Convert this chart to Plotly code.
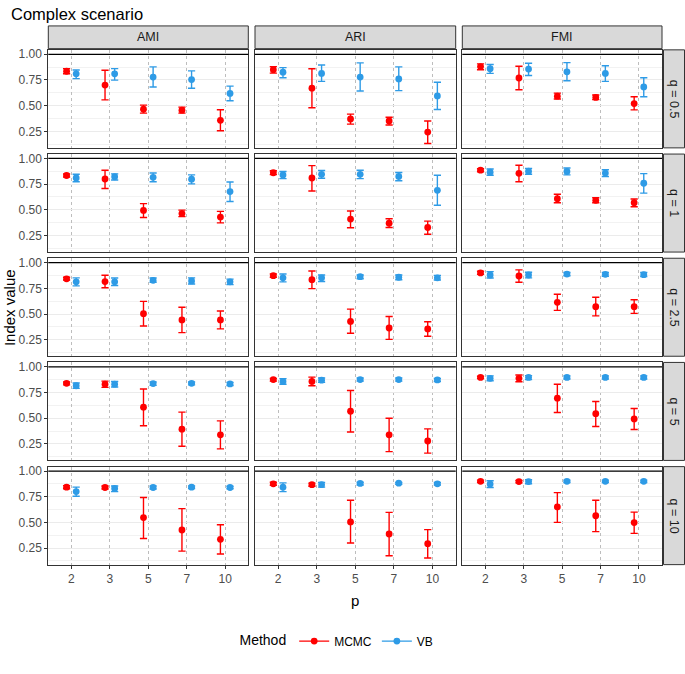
import plotly.graph_objects as go

q_levels = ["0.5", "1", "2.5", "5", "10"]
p_levels = ["2", "3", "5", "7", "10"]
metrics = ["AMI", "ARI", "FMI"]
methods = ["MCMC", "VB"]

# ---- AMI ----
ami_mcmc_mid = [[0.835, 0.70, 0.465, 0.456, 0.357],
                [0.834, 0.80, 0.494, 0.464, 0.43],
                [0.843, 0.816, 0.503, 0.443, 0.443],
                [0.84, 0.831, 0.607, 0.393, 0.338],
                [0.843, 0.84, 0.547, 0.426, 0.335]]
ami_mcmc_lo = [[0.81, 0.556, 0.427, 0.427, 0.255],
               [0.82, 0.708, 0.425, 0.434, 0.373],
               [0.831, 0.756, 0.383, 0.319, 0.355],
               [0.825, 0.80, 0.426, 0.227, 0.202],
               [0.828, 0.825, 0.344, 0.22, 0.193]]
ami_mcmc_hi = [[0.86, 0.844, 0.505, 0.486, 0.46],
               [0.849, 0.886, 0.56, 0.497, 0.485],
               [0.858, 0.877, 0.623, 0.566, 0.53],
               [0.852, 0.861, 0.785, 0.559, 0.474],
               [0.858, 0.855, 0.743, 0.634, 0.477]]
ami_vb_mid = [[0.81, 0.81, 0.778, 0.754, 0.619],
              [0.81, 0.822, 0.816, 0.798, 0.678],
              [0.813, 0.813, 0.828, 0.822, 0.813],
              [0.816, 0.831, 0.837, 0.84, 0.834],
              [0.80, 0.83, 0.84, 0.843, 0.84]]
ami_vb_lo = [[0.763, 0.748, 0.682, 0.67, 0.547],
             [0.774, 0.79, 0.774, 0.753, 0.581],
             [0.774, 0.777, 0.81, 0.792, 0.786],
             [0.79, 0.804, 0.82, 0.825, 0.819],
             [0.755, 0.80, 0.825, 0.83, 0.828]]
ami_vb_hi = [[0.847, 0.86, 0.877, 0.838, 0.69],
             [0.846, 0.85, 0.858, 0.84, 0.771],
             [0.852, 0.85, 0.85, 0.852, 0.84],
             [0.843, 0.858, 0.852, 0.852, 0.849],
             [0.843, 0.855, 0.855, 0.855, 0.852]]

# ---- ARI ----
ari_mcmc_mid = [[0.85, 0.67, 0.37, 0.351, 0.243],
                [0.861, 0.81, 0.41, 0.37, 0.328],
                [0.873, 0.834, 0.428, 0.364, 0.355],
                [0.876, 0.858, 0.568, 0.338, 0.278],
                [0.876, 0.867, 0.505, 0.387, 0.293]]
ari_mcmc_lo = [[0.817, 0.48, 0.32, 0.312, 0.132],
               [0.843, 0.684, 0.325, 0.328, 0.262],
               [0.858, 0.747, 0.313, 0.253, 0.283],
               [0.861, 0.816, 0.366, 0.175, 0.16],
               [0.861, 0.852, 0.30, 0.175, 0.154]]
ari_mcmc_hi = [[0.88, 0.859, 0.417, 0.387, 0.351],
               [0.88, 0.93, 0.488, 0.413, 0.39],
               [0.89, 0.919, 0.548, 0.476, 0.425],
               [0.888, 0.90, 0.77, 0.50, 0.396],
               [0.891, 0.882, 0.716, 0.598, 0.43]]
ari_vb_mid = [[0.826, 0.814, 0.778, 0.76, 0.595],
              [0.84, 0.846, 0.846, 0.825, 0.69],
              [0.852, 0.852, 0.864, 0.858, 0.852],
              [0.858, 0.87, 0.876, 0.876, 0.873],
              [0.843, 0.867, 0.879, 0.882, 0.876]]
ari_vb_lo = [[0.772, 0.736, 0.643, 0.646, 0.462],
             [0.804, 0.807, 0.804, 0.783, 0.545],
             [0.813, 0.816, 0.843, 0.834, 0.831],
             [0.831, 0.849, 0.861, 0.861, 0.858],
             [0.80, 0.843, 0.864, 0.87, 0.864]]
ari_vb_hi = [[0.87, 0.895, 0.916, 0.877, 0.727],
             [0.873, 0.883, 0.886, 0.864, 0.837],
             [0.889, 0.88, 0.88, 0.88, 0.876],
             [0.885, 0.891, 0.891, 0.891, 0.888],
             [0.885, 0.89, 0.891, 0.89, 0.888]]

# ---- FMI ----
fmi_mcmc_mid = [[0.88, 0.769, 0.592, 0.58, 0.52],
                [0.886, 0.855, 0.608, 0.593, 0.569],
                [0.90, 0.87, 0.614, 0.572, 0.572],
                [0.897, 0.888, 0.695, 0.544, 0.493],
                [0.90, 0.897, 0.65, 0.565, 0.498]]
fmi_mcmc_lo = [[0.85, 0.655, 0.565, 0.559, 0.459],
               [0.87, 0.774, 0.569, 0.569, 0.53],
               [0.886, 0.81, 0.536, 0.482, 0.506],
               [0.885, 0.855, 0.556, 0.42, 0.39],
               [0.888, 0.885, 0.50, 0.41, 0.393]]
fmi_mcmc_hi = [[0.907, 0.883, 0.622, 0.604, 0.586],
               [0.90, 0.934, 0.652, 0.617, 0.605],
               [0.916, 0.93, 0.693, 0.663, 0.639],
               [0.909, 0.921, 0.831, 0.662, 0.595],
               [0.912, 0.909, 0.79, 0.716, 0.60]]
fmi_vb_mid = [[0.859, 0.856, 0.829, 0.814, 0.682],
              [0.867, 0.876, 0.873, 0.858, 0.759],
              [0.88, 0.88, 0.889, 0.886, 0.883],
              [0.888, 0.897, 0.897, 0.897, 0.897],
              [0.873, 0.897, 0.90, 0.90, 0.90]]
fmi_vb_lo = [[0.814, 0.793, 0.742, 0.736, 0.586],
             [0.837, 0.846, 0.84, 0.825, 0.663],
             [0.85, 0.852, 0.873, 0.868, 0.865],
             [0.864, 0.876, 0.882, 0.882, 0.882],
             [0.84, 0.876, 0.888, 0.888, 0.888]]
fmi_vb_hi = [[0.90, 0.913, 0.919, 0.889, 0.772],
             [0.898, 0.904, 0.907, 0.89, 0.852],
             [0.913, 0.907, 0.904, 0.904, 0.904],
             [0.912, 0.915, 0.912, 0.912, 0.912],
             [0.906, 0.915, 0.912, 0.912, 0.912]]

reference_value = 1.0

series = {
    ("AMI", "MCMC"): (ami_mcmc_mid, ami_mcmc_lo, ami_mcmc_hi),
    ("AMI", "VB"): (ami_vb_mid, ami_vb_lo, ami_vb_hi),
    ("ARI", "MCMC"): (ari_mcmc_mid, ari_mcmc_lo, ari_mcmc_hi),
    ("ARI", "VB"): (ari_vb_mid, ari_vb_lo, ari_vb_hi),
    ("FMI", "MCMC"): (fmi_mcmc_mid, fmi_mcmc_lo, fmi_mcmc_hi),
    ("FMI", "VB"): (fmi_vb_mid, fmi_vb_lo, fmi_vb_hi),
}

colors = {"MCMC": "#FF0000", "VB": "#2E9BE6"}
dodge = {"MCMC": -0.125, "VB": 0.125}

W, H = 685, 674
FONT = "Liberation Sans, Arial, sans-serif"


def fx(px):
    return px / W


def fy(py):
    return 1 - py / H


col_px = [(48.3, 248.3), (255.0, 455.7), (462.3, 662.0)]
row_top0, row_pitch, row_h = 48.0, 104.5, 98.3
strip_top = (24.0, 46.8)
strip_right = (663.5, 684.5)

fig = go.Figure()
layout = dict(
    width=W, height=H,
    margin=dict(l=0, r=0, t=0, b=0),
    plot_bgcolor="white", paper_bgcolor="white",
    font=dict(family=FONT, color="#1A1A1A"),
    showlegend=True,
)
shapes = []
annotations = []

for r, q in enumerate(q_levels):
    y_top = row_top0 + r * row_pitch
    y_bot = y_top + row_h
    for c, m in enumerate(metrics):
        n = r * 3 + c + 1
        xs = "x" if n == 1 else f"x{n}"
        ys = "y" if n == 1 else f"y{n}"
        xa = "xaxis" if n == 1 else f"xaxis{n}"
        ya = "yaxis" if n == 1 else f"yaxis{n}"
        x0, x1 = col_px[c]
        layout[xa] = dict(
            domain=[fx(x0), fx(x1)], anchor=ys,
            range=[0.4, 5.6],
            tickmode="array", tickvals=list(range(1, 6)), ticktext=p_levels,
            showticklabels=(r == 4),
            ticks="outside" if r == 4 else "", ticklen=3, tickcolor="#333333",
            tickfont=dict(size=12, color="#4D4D4D"),
            showgrid=True, gridcolor="#BDBDBD", gridwidth=0.7, griddash="3px,3px",
            zeroline=False,
            showline=True, linecolor="#333333", linewidth=1, mirror=True,
        )
        layout[ya] = dict(
            domain=[fy(y_bot), fy(y_top)], anchor=xs,
            range=[0.089, 1.043],
            tickmode="array", tickvals=[0.25, 0.5, 0.75, 1.0],
            ticktext=["0.25", "0.50", "0.75", "1.00"],
            showticklabels=(c == 0),
            ticks="outside" if c == 0 else "", ticklen=3, tickcolor="#333333",
            tickfont=dict(size=12, color="#4D4D4D"),
            showgrid=True, gridcolor="#EBEBEB", gridwidth=1.1,
            minor=dict(tickmode="linear", tick0=0.125, dtick=0.25,
                       showgrid=True, gridcolor="#F2F2F2", gridwidth=0.6,
                       ticks=""),
            zeroline=False,
            showline=True, linecolor="#333333", linewidth=1, mirror=True,
        )
        # reference line
        shapes.append(dict(type="line", xref=f"{xs} domain", yref=ys,
                           x0=0, x1=1, y0=reference_value, y1=reference_value,
                           line=dict(color="black", width=1.3), layer="above"))
        for meth in methods:
            mid, lo, hi = series[(m, meth)]
            vals = mid[r]
            xpos = [i + 1 + dodge[meth] for i in range(len(p_levels))]
            fig.add_trace(go.Scatter(
                x=xpos, y=vals, xaxis=xs, yaxis=ys,
                mode="markers",
                marker=dict(color=colors[meth], size=6.8),
                error_y=dict(type="data", symmetric=False,
                             array=[h - v for h, v in zip(hi[r], vals)],
                             arrayminus=[v - l for v, l in zip(vals, lo[r])],
                             color=colors[meth], thickness=1.4, width=3.6),
                showlegend=False, hoverinfo="skip",
            ))
    # right strip
    shapes.append(dict(type="rect", xref="paper", yref="paper",
                       x0=fx(strip_right[0]), x1=fx(strip_right[1]),
                       y0=fy(y_bot), y1=fy(y_top),
                       fillcolor="#D9D9D9", line=dict(color="#333333", width=1)))
    annotations.append(dict(text=f"q = {q}", xref="paper", yref="paper",
                            x=fx(sum(strip_right) / 2), y=fy((y_top + y_bot) / 2),
                            showarrow=False, textangle=90,
                            font=dict(size=12.5, color="#1A1A1A"),
                            xanchor="center", yanchor="middle"))

# top strips
for c, m in enumerate(metrics):
    x0, x1 = col_px[c]
    shapes.append(dict(type="rect", xref="paper", yref="paper",
                       x0=fx(x0), x1=fx(x1), y0=fy(strip_top[1]), y1=fy(strip_top[0]),
                       fillcolor="#D9D9D9", line=dict(color="#333333", width=1)))
    annotations.append(dict(text=m, xref="paper", yref="paper",
                            x=fx((x0 + x1) / 2), y=fy(sum(strip_top) / 2),
                            showarrow=False, font=dict(size=12.5, color="#1A1A1A"),
                            xanchor="center", yanchor="middle"))

# titles
annotations.append(dict(text="Complex scenario", xref="paper", yref="paper",
                        x=fx(9), y=fy(12), xanchor="left", yanchor="middle",
                        showarrow=False, font=dict(size=16.5, color="black")))
annotations.append(dict(text="Index value", xref="paper", yref="paper",
                        x=fx(9), y=fy(307), xanchor="center", yanchor="middle",
                        textangle=-90, showarrow=False,
                        font=dict(size=15, color="black")))
annotations.append(dict(text="p", xref="paper", yref="paper",
                        x=fx(355), y=fy(600), xanchor="center", yanchor="middle",
                        showarrow=False, font=dict(size=15, color="black")))

# legend entries
for meth in methods:
    fig.add_trace(go.Scatter(
        x=[None], y=[None], mode="lines+markers", name=meth,
        marker=dict(color=colors[meth], size=6.8),
        line=dict(color=colors[meth], width=1.4),
        showlegend=True,
    ))

layout["legend"] = dict(
    orientation="h", x=fx(338), y=fy(641), xanchor="center", yanchor="middle",
    title=dict(text="Method", side="left", font=dict(size=14, color="black")),
    font=dict(size=12, color="black"), bgcolor="rgba(0,0,0,0)",
    itemwidth=30, tracegroupgap=0,
)
layout["shapes"] = shapes
layout["annotations"] = annotations
fig.update_layout(**layout)

fig.write_html("out.html",
               config={"displayModeBar": False},
               post_script="document.body.style.margin='0';document.body.style.padding='0';")
